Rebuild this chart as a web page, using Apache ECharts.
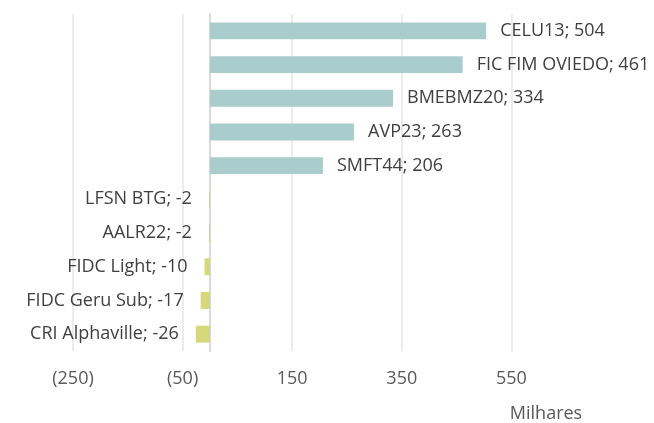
<!DOCTYPE html>
<html>
<head>
<meta charset="utf-8">
<script src="https://cdn.jsdelivr.net/npm/echarts@6/dist/echarts.min.js"></script>
<style>
  html,body{margin:0;padding:0;background:#fff;}
  #chart{width:654px;height:423px;}
</style>
</head>
<body>
<div id="chart"></div>
<script>
// categorias e valores (milhares)
var categories = ["CELU13","FIC FIM OVIEDO","BMEBMZ20","AVP23","SMFT44","LFSN BTG","AALR22","FIDC Light","FIDC Geru Sub","CRI Alphaville"]
var values = [504,461,334,263,206,-2,-2,-10,-17,-26]
var xTicks = [-250,-50,150,350,550]

var posColor = "#a9cdcd"
var negColor = "#d6d87a"

var myChart = echarts.init(document.getElementById("chart"))
myChart.setOption({
  animation:false,
  textStyle:{fontFamily:"'Open Sans', sans-serif"},
  grid:{
    left:73,
    right:33,
    top:14,
    bottom:72
  },
  xAxis:{
    type:"value",
    min:xTicks[0],
    max:750,
    interval:200,
    name:"Milhares",
    nameLocation:"end",
    nameGap:0,
    nameTextStyle:{
      color:"#595959",
      fontSize:18,
      align:"center",
      verticalAlign:"top",
      padding:[54,150,0,0]
    },
    axisLine:{show:false},
    axisTick:{show:false},
    axisLabel:{
      color:"#595959",
      fontSize:18,
      margin:19,
      showMaxLabel:false,
      formatter:function(v){
        if(v<0) return "(" + Math.abs(v) + ")"
        return v
      }
    },
    splitLine:{
      showMaxLine:false,
      lineStyle:{color:"#ececec",width:2}
    }
  },
  yAxis:{
    type:"category",
    data:categories,
    inverse:true,
    axisLine:{onZero:true,lineStyle:{color:"#d9d9d9",width:2}},
    axisTick:{show:false},
    axisLabel:{show:false}
  },
  series:[
    {
      type:"bar",
      barWidth:"50%",
      data:values.map(function(v,i){
        return {
          value:v,
          itemStyle:{color:v>=0?posColor:negColor},
          label:{position:v>=0?"right":"left",distance:v>=0?14:17}
        }
      }),
      label:{
        show:true,
        color:"#404040",
        fontSize:18,
        formatter:function(p){
          return categories[p.dataIndex] + "; " + p.value
        }
      }
    }
  ]
})
</script>
</body>
</html>
